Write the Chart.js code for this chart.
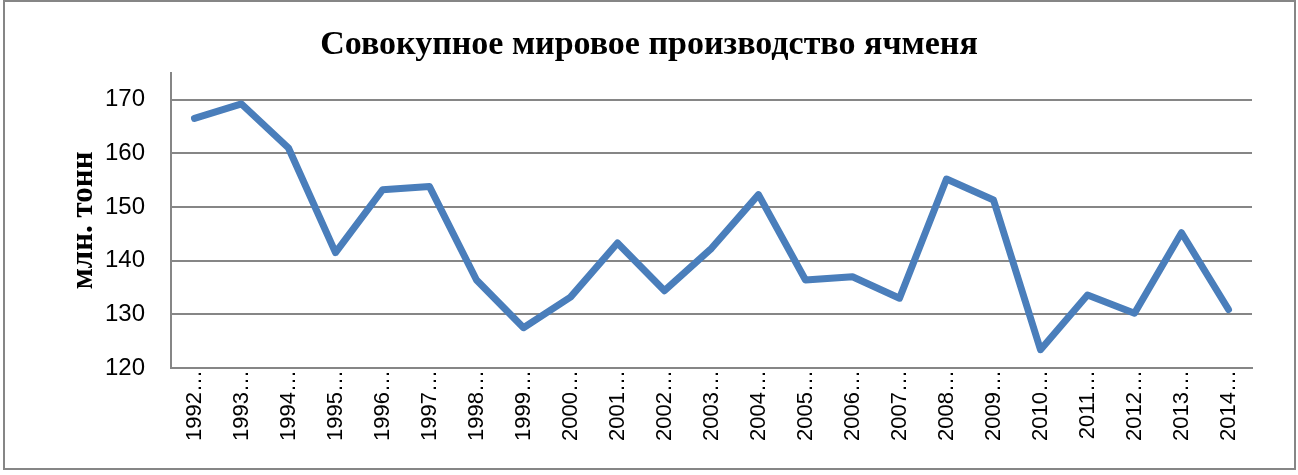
<!DOCTYPE html>
<html>
<head>
<meta charset="utf-8">
<script src="https://cdn.jsdelivr.net/npm/chart.js@4"></script>
<style>
  html, body { margin: 0; padding: 0; background: #fff; }
  #wrap { position: relative; width: 1298px; height: 475px; }
  #frame { position: absolute; left: 3px; top: 0; width: 1289px; height: 466px; border: 2px solid #868686; }
  canvas { position: absolute; left: 0; top: 0; }
</style>
</head>
<body>
<div id="wrap">
  <div id="frame"></div>
  <canvas id="chart" width="1298" height="475"></canvas>
</div>
<script>
"use strict";

var years = ["1992", "1993", "1994", "1995", "1996", "1997", "1998", "1999", "2000", "2001", "2002",
  "2003", "2004", "2005", "2006", "2007", "2008", "2009", "2010", "2011", "2012", "2013", "2014"];
var production = [166.5, 169.2, 161.0, 141.5, 153.2, 153.8, 136.4, 127.5, 133.2, 143.3, 134.4,
  142.3, 152.3, 136.4, 137.0, 133.0, 155.2, 151.3, 123.4, 133.6, 130.2, 145.2, 130.9];
var yTicks = [120, 130, 140, 150, 160, 170];

// labels in the source are cut off by the axis
var labels = years.map(function(y) { return y + "\u2026"; });

var GRID = "#868686";

new Chart(document.getElementById("chart").getContext("2d"), {
  type: "line",
  data: {
    labels: labels,
    datasets: [{
      data: production,
      borderColor: "#4A7EBB",
      borderWidth: 7,
      pointRadius: 0,
      tension: 0,
      fill: false,
      borderJoinStyle: "round",
      borderCapStyle: "round",
    }],
  },
  options: {
    responsive: false,
    animation: false,
    layout: { padding: 0 },
    plugins: {
      legend: { display: false },
      tooltip: { enabled: false },
      title: {
        display: true,
        text: "Совокупное мировое производство ячменя",
        color: "#000",
        font: { family: "'Liberation Serif', serif", size: 34, weight: "bold", lineHeight: 1.2 },
        padding: { top: 25, bottom: 7 },
      },
    },
    scales: {
      x: {
        offset: true,
        grid: { display: false, drawTicks: false },
        border: { display: true, color: GRID, width: 2 },
        ticks: {
          autoSkip: false,
          maxRotation: 90,
          minRotation: 90,
          padding: 2,
          color: "#000",
          font: { family: "'Liberation Sans', Arial, sans-serif", size: 22 },
        },
        afterFit: function(s) { s.height = 107; },
      },
      y: {
        min: 120,
        max: 175,
        afterBuildTicks: function(s) {
          s.ticks = yTicks.map(function(v) { return { value: v }; });
        },
        grid: { color: GRID, lineWidth: 2, drawTicks: false },
        border: { display: true, color: GRID, width: 2 },
        ticks: {
          padding: 26,
          color: "#000",
          font: { family: "'Liberation Sans', Arial, sans-serif", size: 24 },
        },
        title: {
          display: true,
          text: "млн. тонн",
          color: "#000",
          font: { family: "'Liberation Serif', serif", size: 31, weight: "bold", lineHeight: 1.2 },
          padding: { top: 65, bottom: 0 },
        },
        afterFit: function(s) { s.width = 171; },
      },
      // empty right gutter so the title centres on the whole frame
      yr: {
        position: "right",
        grid: { display: false, drawTicks: false },
        border: { display: false },
        ticks: { display: false },
        afterFit: function(s) { s.width = 46; },
      },
    },
  },
});
</script>
</body>
</html>
